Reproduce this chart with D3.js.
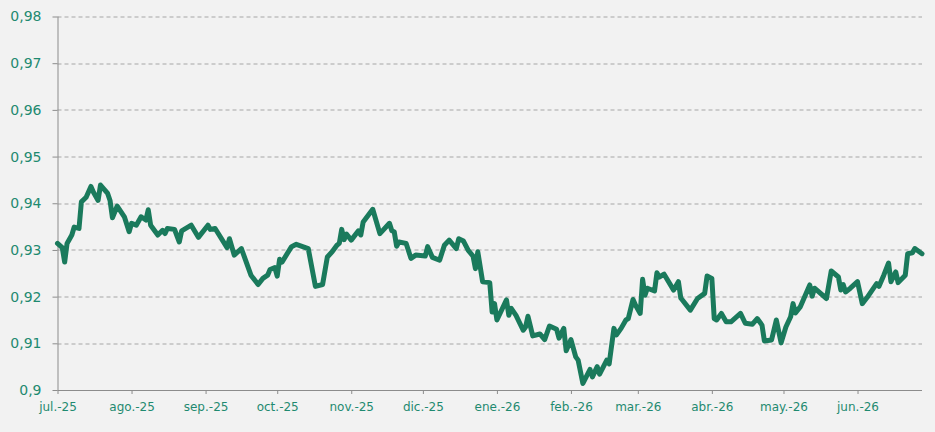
<!DOCTYPE html>
<html lang="es">
<head>
  <meta charset="UTF-8">
  <title>Serie diaria</title>
  <script src="https://d3js.org/d3.v7.min.js"></script>
  <style>
    body { margin: 0; background: #f2f2f2; }
    svg { display: block; background: #f2f2f2; }
    .line { fill: none; stroke: #1a7a5c; stroke-width: 5; stroke-linejoin: round; stroke-linecap: round; }
    .grid line { stroke: #a6a6a6; stroke-dasharray: 4,3; }
    .axis path, .axis line { stroke: #8c8c8c; }
    .axis text { fill: #1f8a70; font-family: "DejaVu Sans", Verdana, sans-serif; }
  </style>
</head>
<body>
<script>
  // data
  const dates = [
    '2025-07-01','2025-07-03','2025-07-04','2025-07-05','2025-07-07','2025-07-08','2025-07-10','2025-07-11',
    '2025-07-13','2025-07-15','2025-07-16','2025-07-18','2025-07-19','2025-07-22','2025-07-23','2025-07-24',
    '2025-07-26','2025-07-29','2025-07-31','2025-08-01','2025-08-03','2025-08-05','2025-08-07','2025-08-08',
    '2025-08-09','2025-08-12','2025-08-14','2025-08-15','2025-08-16','2025-08-19','2025-08-21','2025-08-22',
    '2025-08-26','2025-08-29','2025-09-02','2025-09-03','2025-09-05','2025-09-10','2025-09-11','2025-09-13',
    '2025-09-16','2025-09-20','2025-09-23','2025-09-25','2025-09-27','2025-09-28','2025-09-30','2025-10-01',
    '2025-10-02','2025-10-03','2025-10-07','2025-10-09','2025-10-14','2025-10-17','2025-10-20','2025-10-22',
    '2025-10-24','2025-10-26','2025-10-27','2025-10-28','2025-10-29','2025-10-30','2025-11-01','2025-11-04',
    '2025-11-05','2025-11-06','2025-11-10','2025-11-13','2025-11-17','2025-11-18','2025-11-19','2025-11-20',
    '2025-11-21','2025-11-24','2025-11-26','2025-11-28','2025-12-02','2025-12-03','2025-12-05','2025-12-08',
    '2025-12-10','2025-12-12','2025-12-15','2025-12-16','2025-12-18','2025-12-20','2025-12-22','2025-12-23',
    '2025-12-24','2025-12-26','2025-12-29','2025-12-30','2025-12-31','2026-01-01','2026-01-05','2026-01-06',
    '2026-01-07','2026-01-09','2026-01-12','2026-01-13','2026-01-14','2026-01-16','2026-01-19','2026-01-21',
    '2026-01-23','2026-01-26','2026-01-27','2026-01-29','2026-01-30','2026-02-01','2026-02-03','2026-02-04',
    '2026-02-06','2026-02-09','2026-02-10','2026-02-12','2026-02-13','2026-02-16','2026-02-17','2026-02-19',
    '2026-02-20','2026-02-22','2026-02-24','2026-02-25','2026-02-27','2026-02-28','2026-03-02','2026-03-03',
    '2026-03-04','2026-03-05','2026-03-08','2026-03-09','2026-03-10','2026-03-12','2026-03-16','2026-03-18',
    '2026-03-19','2026-03-23','2026-03-26','2026-03-29','2026-03-30','2026-04-01','2026-04-02','2026-04-03',
    '2026-04-05','2026-04-07','2026-04-09','2026-04-13','2026-04-15','2026-04-18','2026-04-20','2026-04-22',
    '2026-04-23','2026-04-26','2026-04-28','2026-04-30','2026-05-02','2026-05-04','2026-05-05','2026-05-06',
    '2026-05-08','2026-05-12','2026-05-13','2026-05-14','2026-05-19','2026-05-21','2026-05-24','2026-05-25',
    '2026-05-26','2026-05-27','2026-05-29','2026-06-01','2026-06-03','2026-06-05','2026-06-09','2026-06-10',
    '2026-06-12','2026-06-14','2026-06-15','2026-06-17','2026-06-18','2026-06-21','2026-06-22','2026-06-24',
    '2026-06-25','2026-06-28'
  ];
  const values = [
    0.9314,0.9305,0.9274,0.9314,0.9332,0.9349,0.9346,0.9403,
    0.9413,0.9436,0.9424,0.9406,0.9439,0.9421,0.9406,0.9369,
    0.9394,0.9371,0.9339,0.9357,0.9353,0.9371,0.9364,0.9386,
    0.9353,0.9332,0.9342,0.9335,0.9346,0.9344,0.9317,0.9341,
    0.9353,0.9327,0.9353,0.9344,0.9346,0.9305,0.9324,0.9289,
    0.9303,0.9246,0.9226,0.9239,0.9246,0.9258,0.9262,0.9244,
    0.9280,0.9274,0.9307,0.9312,0.9303,0.9222,0.9226,0.9285,
    0.9296,0.9310,0.9314,0.9344,0.9322,0.9334,0.9321,0.9341,
    0.9332,0.9360,0.9387,0.9335,0.9357,0.9341,0.9339,0.9308,
    0.9317,0.9314,0.9282,0.9289,0.9287,0.9307,0.9284,0.9278,
    0.9310,0.9321,0.9303,0.9324,0.9319,0.9299,0.9287,0.9260,
    0.9296,0.9232,0.9230,0.9167,0.9185,0.9150,0.9193,0.9160,
    0.9175,0.9160,0.9128,0.9135,0.9158,0.9116,0.9120,0.9108,
    0.9137,0.9130,0.9111,0.9132,0.9084,0.9108,0.9071,0.9064,
    0.9014,0.9044,0.9028,0.9050,0.9034,0.9064,0.9056,0.9132,
    0.9118,0.9132,0.9150,0.9153,0.9194,0.9182,0.9164,0.9237,
    0.9203,0.9218,0.9212,0.9251,0.9242,0.9248,0.9214,0.9232,
    0.9197,0.9171,0.9196,0.9207,0.9244,0.9239,0.9153,0.9150,
    0.9164,0.9146,0.9146,0.9164,0.9143,0.9141,0.9153,0.9139,
    0.9105,0.9107,0.9150,0.9101,0.9135,0.9157,0.9185,0.9165,
    0.9178,0.9225,0.9201,0.9218,0.9196,0.9255,0.9242,0.9214,
    0.9226,0.9210,0.9218,0.9232,0.9185,0.9198,0.9228,0.9222,
    0.9246,0.9272,0.9232,0.9253,0.9230,0.9246,0.9292,0.9294,
    0.9303,0.9292
  ];
  const yTicks = [0.90, 0.91, 0.92, 0.93, 0.94, 0.95, 0.96, 0.97, 0.98];
  const monthLabels = ['jul.-25','ago.-25','sep.-25','oct.-25','nov.-25','dic.-25',
                       'ene.-26','feb.-26','mar.-26','abr.-26','may.-26','jun.-26'];

  const parse = d3.timeParse('%Y-%m-%d');
  const data = dates.map((d, i) => ({date: parse(d), value: values[i]}));
  const monthTicks = d3.timeMonth.range(parse('2025-07-01'), parse('2026-06-02'));

  const W = 935, H = 432;
  const margin = {top: 16.5, right: 13, bottom: 42, left: 57.5};
  const width = W - margin.left - margin.right;
  const height = H - margin.top - margin.bottom;

  const x = d3.scaleTime()
    .domain([parse('2025-07-01'), parse('2026-06-28')])
    .range([0, width]);
  const y = d3.scaleLinear().domain([0.9, 0.98]).range([height, 0]);

  const svg = d3.select('body').append('svg')
    .attr('width', W).attr('height', H)
    .append('g')
    .attr('transform', `translate(${margin.left},${margin.top})`);

  // dashed gridlines
  svg.append('g').attr('class', 'grid')
    .selectAll('line')
    .data(yTicks.filter(t => t > 0.9))
    .join('line')
    .attr('x1', 0).attr('x2', width)
    .attr('y1', d => Math.round(y(d)) + 0.5).attr('y2', d => Math.round(y(d)) + 0.5);

  const fmt = d => String(+d.toFixed(2)).replace('.', ',');

  const yAxis = svg.append('g').attr('class', 'axis')
    .call(d3.axisLeft(y).tickValues(yTicks).tickFormat(fmt).tickSize(5).tickPadding(11));
  yAxis.select('.domain').attr('d', `M0.5,${height}V0`);
  yAxis.selectAll('text').style('font-size', '14px');

  const xAxis = svg.append('g').attr('class', 'axis')
    .attr('transform', `translate(0,${height})`)
    .call(d3.axisBottom(x).tickValues(monthTicks)
      .tickFormat((d, i) => monthLabels[i]).tickSize(4).tickPadding(8));
  xAxis.select('.domain').attr('d', `M0,0.5H${width}`);
  xAxis.selectAll('text').style('font-size', '12px');

  const line = d3.line()
    .x(d => x(d.date))
    .y(d => y(d.value));

  svg.append('path')
    .datum(data)
    .attr('class', 'line')
    .attr('d', line);
</script>
</body>
</html>
